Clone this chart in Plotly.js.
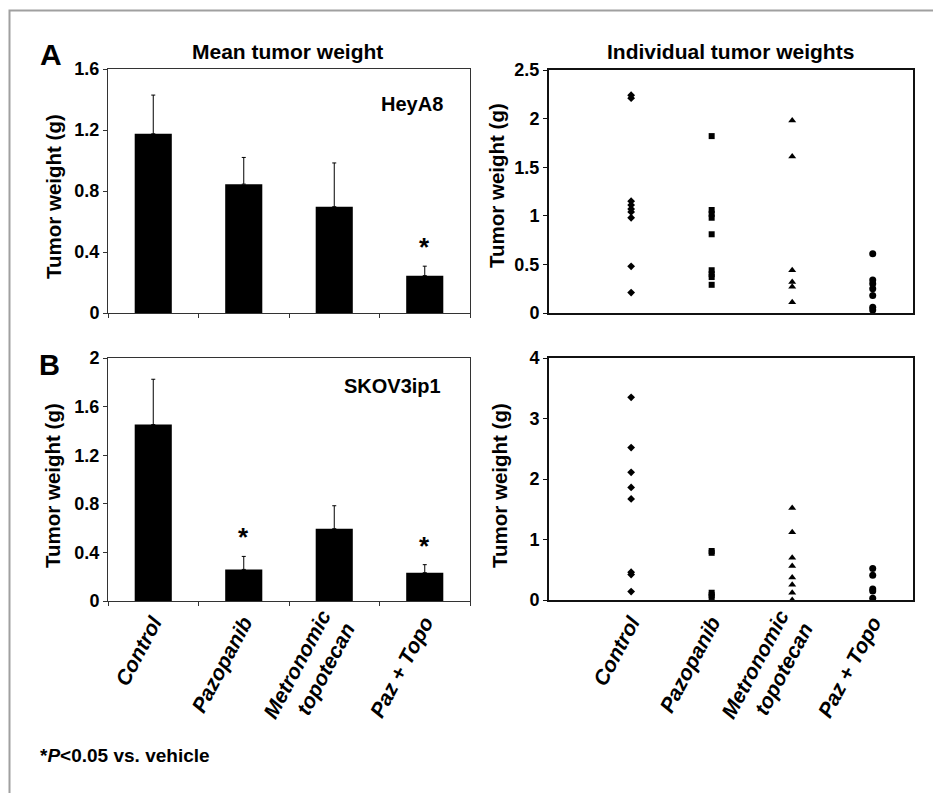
<!DOCTYPE html>
<html>
<head>
<meta charset="utf-8">
<script src="https://cdn.plot.ly/plotly-3.0.1.min.js"></script>
<style>html,body{margin:0;padding:0;background:#fff;}#chart{width:933px;height:793px;}</style>
</head>
<body>
<div id="chart"></div>
<script>
// ---- Data ----
const categories = ['Control', 'Pazopanib', 'Metronomic<br>topotecan', 'Paz + Topo'];

// Panel A (HeyA8) mean tumor weight and error (upper bar)
const meanA = [1.175, 0.845, 0.697, 0.245];
const errA  = [0.254, 0.175, 0.287, 0.062];
const starA = [false, false, false, true];

// Panel B (SKOV3ip1)
const meanB = [1.452, 0.260, 0.595, 0.233];
const errB  = [0.373, 0.107, 0.189, 0.066];
const starB = [false, true, false, true];

// Individual tumor weights, panel A
const ctrlA  = [2.24, 2.21, 1.15, 1.11, 1.07, 1.04, 0.98, 0.48, 0.21];
const pazA   = [1.82, 1.06, 1.02, 0.98, 0.81, 0.44, 0.40, 0.37, 0.29];
const metA   = [1.98, 1.61, 0.44, 0.32, 0.27, 0.11];
const comboA = [0.61, 0.34, 0.30, 0.25, 0.18, 0.06, 0.03];

// Individual tumor weights, panel B
const ctrlB  = [3.35, 2.52, 2.11, 1.86, 1.67, 0.46, 0.42, 0.14];
const pazB   = [0.81, 0.78, 0.12, 0.08, 0.05];
const metB   = [1.52, 1.12, 0.70, 0.56, 0.37, 0.25, 0.12, 0.0];
const comboB = [0.52, 0.41, 0.18, 0.15, 0.03];

const cellLabels = ['HeyA8', 'SKOV3ip1'];
const panelLabels = ['A', 'B'];
const colTitles = ['Mean tumor weight', 'Individual tumor weights'];
const yTitle = 'Tumor weight (g)';
const footnote = '*<i>P</i>&lt;0.05 vs. vehicle';

// ---- Helpers ----
const W = 933, H = 793;
const FONT = 'Liberation Sans, Arial, Helvetica, sans-serif';
const px = v => v / W;
const py = v => 1 - v / H;

function barTrace(means, errs, xa, ya) {
  return {
    type: 'bar', x: categories, y: means, xaxis: xa, yaxis: ya,
    marker: {color: '#000', line: {width: 0}},
    error_y: {type: 'data', symmetric: false, array: errs, arrayminus: errs.map(() => 0),
              color: '#000', thickness: 1, width: 2},
    hoverinfo: 'skip', showlegend: false
  };
}
function dotTrace(cat, vals, symbol, size, xa, ya) {
  return {
    type: 'scatter', mode: 'markers', x: vals.map(() => cat), y: vals,
    xaxis: xa, yaxis: ya, cliponaxis: false,
    marker: {color: '#000', symbol: symbol, size: size, line: {width: 0}},
    hoverinfo: 'skip', showlegend: false
  };
}

const data = [
  barTrace(meanA, errA, 'x', 'y'),
  barTrace(meanB, errB, 'x3', 'y3'),
  dotTrace(categories[0], ctrlA, 'diamond', 6, 'x2', 'y2'),
  dotTrace(categories[1], pazA, 'square', 6, 'x2', 'y2'),
  dotTrace(categories[2], metA, 'triangle-up', 7, 'x2', 'y2'),
  dotTrace(categories[3], comboA, 'circle', 7, 'x2', 'y2'),
  dotTrace(categories[0], ctrlB, 'diamond', 6, 'x4', 'y4'),
  dotTrace(categories[1], pazB, 'square', 6, 'x4', 'y4'),
  dotTrace(categories[2], metB, 'triangle-up', 7, 'x4', 'y4'),
  dotTrace(categories[3], comboB, 'circle', 7, 'x4', 'y4')
];

const tickFont = {family: FONT, size: 18, color: '#000', weight: 'bold'};
const catFont = {family: FONT, size: 21, color: '#000', weight: 'bold', style: 'italic'};

function yAx(dom, range, dtick, lw, lc, anchor) {
  return {domain: dom, range: range, dtick: dtick, tick0: 0, anchor: anchor,
          showgrid: false, zeroline: false, showline: true, mirror: true,
          linecolor: lc, linewidth: lw, ticks: 'outside', ticklen: 4, tickcolor: lc,
          tickwidth: 1, tickfont: tickFont, fixedrange: true};
}
function xAxLeft(dom, anchor, labels) {
  return {domain: dom, anchor: anchor, type: 'category', range: [-0.5, 3.5],
          categoryorder: 'array', categoryarray: categories,
          showgrid: false, zeroline: false, showline: true, mirror: true,
          linecolor: '#333', linewidth: 1, ticks: 'outside', tickson: 'boundaries',
          ticklen: 4, tickcolor: '#333', showticklabels: labels,
          tickangle: -62, tickfont: catFont, fixedrange: true};
}
function xAxRight(dom, anchor, labels) {
  return {domain: dom, anchor: anchor, type: 'category', range: [-1.02, 3.5],
          categoryorder: 'array', categoryarray: categories,
          showgrid: false, zeroline: false, showline: true, mirror: true,
          linecolor: '#111', linewidth: 2, ticks: '', showticklabels: labels,
          tickangle: -62, tickfont: catFont, fixedrange: true};
}

const leftX = [px(108), px(470)];
const rightX = [px(549), px(913)];
const topY = [py(313), py(69)];
const botY = [py(601), py(358)];

const layout = {
  width: W, height: H,
  margin: {l: 0, r: 0, t: 0, b: 0},
  paper_bgcolor: '#fff', plot_bgcolor: '#fff',
  showlegend: false, bargap: 0.59,
  font: {family: FONT, color: '#000'},
  xaxis: xAxLeft(leftX, 'y', false),
  yaxis: yAx(topY, [0, 1.6], 0.4, 1, '#333', 'x'),
  xaxis2: xAxRight(rightX, 'y2', false),
  yaxis2: yAx([py(313), py(70)], [0, 2.5], 0.5, 2, '#111', 'x2'),
  xaxis3: xAxLeft(leftX, 'y3', true),
  yaxis3: yAx(botY, [0, 2], 0.4, 1, '#333', 'x3'),
  xaxis4: xAxRight(rightX, 'y4', true),
  yaxis4: yAx([py(600), py(358)], [0, 4], 1, 2, '#111', 'x4'),
  shapes: [
    {type: 'rect', xref: 'paper', yref: 'paper', x0: px(9.5), x1: 1.05, y0: -0.05, y1: py(10.5),
     line: {color: '#a0a0a0', width: 2}, fillcolor: 'rgba(0,0,0,0)', layer: 'below'}
  ],
  annotations: []
};

const ann = layout.annotations;
function textAnn(text, x, y, size, opts) {
  ann.push(Object.assign({xref: 'paper', yref: 'paper', x: px(x), y: py(y), text: text,
    showarrow: false, xanchor: 'center', yanchor: 'middle',
    font: {family: FONT, size: size, color: '#000', weight: 'bold'}}, opts || {}));
}
textAnn(colTitles[0], 287, 52, 21);
textAnn(colTitles[1], 730, 52, 21);
textAnn(panelLabels[0], 51, 54, 30);
textAnn(panelLabels[1], 49, 365, 29);
textAnn(cellLabels[0], 412, 104, 20);
textAnn(cellLabels[1], 392, 386, 20);
textAnn(yTitle, 53, 197, 20.5, {textangle: -90});
textAnn(yTitle, 53, 486, 20.5, {textangle: -90});
textAnn(yTitle, 497, 186, 20.5, {textangle: -90});
textAnn(yTitle, 499, 485, 20.5, {textangle: -90});
textAnn(footnote, 38, 755, 19, {xanchor: 'left'});

// significance stars above error bars
function addStars(flags, means, errs, xr, yr) {
  flags.forEach((f, i) => {
    if (!f) return;
    ann.push({xref: xr, yref: yr, x: categories[i], y: means[i] + errs[i], yshift: 2,
      text: '*', showarrow: false, xanchor: 'center', yanchor: 'bottom',
      font: {family: FONT, size: 26, color: '#000', weight: 'bold'}});
  });
}
addStars(starA, meanA, errA, 'x', 'y');
addStars(starB, meanB, errB, 'x3', 'y3');

Plotly.newPlot('chart', data, layout, {staticPlot: true, displayModeBar: false});
</script>
</body>
</html>
